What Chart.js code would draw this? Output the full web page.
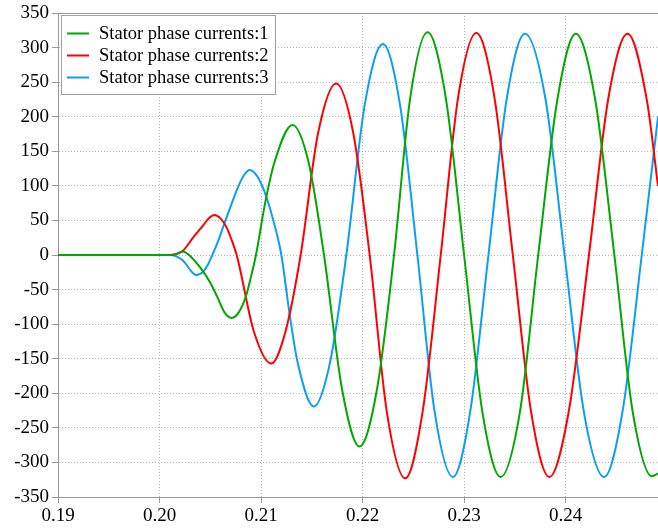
<!DOCTYPE html>
<html>
<head>
<meta charset="utf-8">
<script src="https://cdn.jsdelivr.net/npm/chart.js@4.4.1/dist/chart.umd.min.js"></script>
<style>
  html, body { margin: 0; padding: 0; background: #fff; }
  #wrap { width: 658px; height: 529px; }
</style>
</head>
<body>
<div id="wrap"><canvas id="chart" width="658" height="529"></canvas></div>
<script>
const seriesNames = ['Stator phase currents:1', 'Stator phase currents:2', 'Stator phase currents:3'];

// phase 1 (green): time [s], current
const t1 = [0.19, 0.2010, 0.2017, 0.2023, 0.2029, 0.2040, 0.2050, 0.2057, 0.2064, 0.2071, 0.2078, 0.2085, 0.2090, 0.2095, 0.2104, 0.2113, 0.2131, 0.2147, 0.2162, 0.2180, 0.2197, 0.2214, 0.2231, 0.2247, 0.2264, 0.2282, 0.2300, 0.2318, 0.2336, 0.2355, 0.2373, 0.2392, 0.2410, 0.2429, 0.2448, 0.2466, 0.2485, 0.2491];
const i1 = [0, 0, 2, 5, 0, -18, -40, -61, -83, -91, -83, -60, -32, 0, 75, 133, 188, 133, 0, -196, -277, -196, 0, 228, 322, 227, 0, -227, -321, -227, 0, 226, 320, 226, 0, -226, -320, -316];

// phase 2 (red)
const t2 = [0.19, 0.2012, 0.2018, 0.2023, 0.2033, 0.2043, 0.2049, 0.2054, 0.2060, 0.2066, 0.2071, 0.2076, 0.2093, 0.2110, 0.2124, 0.2139, 0.2156, 0.2174, 0.2191, 0.2207, 0.2224, 0.2242, 0.2259, 0.2277, 0.2294, 0.2312, 0.2330, 0.2348, 0.2366, 0.2384, 0.2403, 0.2423, 0.2442, 0.2461, 0.2480, 0.2491];
const i2 = [0, 0, 2, 6, 25, 43, 54, 58, 53, 40, 22, 0, -111, -157, -111, 0, 175, 248, 175, 0, -228, -323, -228, 0, 227, 321, 227, 0, -227, -321, -227, 0, 226, 320, 224, 100];

// phase 3 (blue)
const t3 = [0.19, 0.2011, 0.2018, 0.2023, 0.2027, 0.2031, 0.2036, 0.2043, 0.2048, 0.2052, 0.2058, 0.2063, 0.2070, 0.2077, 0.2083, 0.2089, 0.2097, 0.2105, 0.2113, 0.2120, 0.2128, 0.2136, 0.2152, 0.2168, 0.2184, 0.2202, 0.2220, 0.2237, 0.2254, 0.2271, 0.2289, 0.2306, 0.2324, 0.2342, 0.2360, 0.2380, 0.2399, 0.2418, 0.2438, 0.2456, 0.2475, 0.2491];
const i3 = [0, 0, -3, -8, -15, -23, -29, -24, -13, 0, 21, 42, 70, 97, 115, 123, 112, 85, 45, 0, -84, -155, -219, -155, 0, 216, 305, 216, 0, -227, -321, -227, 0, 226, 320, 227, 0, -227, -321, -227, 0, 200];

const xTicks = [0.19, 0.20, 0.21, 0.22, 0.23, 0.24];
const yTicks = [-350, -300, -250, -200, -150, -100, -50, 0, 50, 100, 150, 200, 250, 300, 350];

const colors = ['#00a800', '#ff0000', '#0a9ff5'];
const axisGray = '#999999';
const serif = "'Liberation Serif', 'Times New Roman', serif";
Chart.defaults.font.family = serif;
const tickFont = { family: serif, size: 19 };

const toPoints = (ts, vs) => ts.map((t, k) => ({ x: t, y: vs[k] }));

// top frame line + legend box in the upper left corner
const frame = {
  id: 'frame',
  beforeDatasetsDraw(chart) {
    const { ctx, chartArea } = chart;
    ctx.save();
    ctx.strokeStyle = axisGray;
    ctx.lineWidth = 1;
    ctx.beginPath();
    ctx.moveTo(chartArea.left, chartArea.top + 0.5);
    ctx.lineTo(chartArea.right, chartArea.top + 0.5);
    ctx.stroke();
    ctx.restore();
  },
  afterDatasetsDraw(chart) {
    const ctx = chart.ctx;
    ctx.save();
    ctx.fillStyle = '#fff';
    ctx.strokeStyle = '#a0a0a0';
    ctx.lineWidth = 1;
    ctx.fillRect(61.5, 15.5, 214, 79);
    ctx.strokeRect(61.5, 15.5, 214, 79);
    ctx.font = '18.5px ' + serif;
    ctx.textBaseline = 'middle';
    chart.data.datasets.forEach((ds, k) => {
      const y = 33.5 + k * 22;
      ctx.strokeStyle = ds.borderColor;
      ctx.lineWidth = 2;
      ctx.beginPath();
      ctx.moveTo(67, y);
      ctx.lineTo(89, y);
      ctx.stroke();
      ctx.fillStyle = '#000';
      ctx.fillText(ds.label, 99, y + 1);
    });
    ctx.restore();
  }
};

const mkSet = (k, ts, vs) => ({
  label: seriesNames[k],
  data: toPoints(ts, vs),
  borderColor: colors[k],
  borderWidth: 2,
  pointRadius: 0,
  fill: false,
  cubicInterpolationMode: 'monotone'
});

new Chart(document.getElementById('chart'), {
  type: 'line',
  data: {
    datasets: [mkSet(0, t1, i1), mkSet(1, t2, i2), mkSet(2, t3, i3)]
  },
  options: {
    responsive: false,
    animation: false,
    devicePixelRatio: 1,
    layout: { padding: { top: 13, right: 0, bottom: 0, left: 0 } },
    plugins: { legend: { display: false }, tooltip: { enabled: false } },
    scales: {
      x: {
        type: 'linear',
        min: 0.19,
        max: 0.2491,
        afterBuildTicks: (scale) => { scale.ticks = xTicks.map(v => ({ value: v })); },
        afterFit: (scale) => { scale.height = 32; scale.paddingLeft = 0; scale.paddingRight = 0; },
        ticks: {
          font: tickFont,
          color: '#000',
          padding: 2,
          maxRotation: 0,
          callback: (v) => Number(v).toFixed(2)
        },
        grid: { color: '#b4b4b4', lineWidth: 1, tickColor: axisGray, tickLength: 6, tickWidth: 1 },
        border: { display: true, color: axisGray, width: 1, dash: [1, 2] }
      },
      y: {
        min: -350,
        max: 350,
        afterBuildTicks: (scale) => { scale.ticks = yTicks.map(v => ({ value: v })); },
        afterFit: (scale) => { scale.width = 58; scale.paddingTop = 0; scale.paddingBottom = 0; },
        ticks: {
          font: tickFont,
          color: '#000',
          padding: 3,
          callback: (v) => String(v)
        },
        grid: { color: '#b4b4b4', lineWidth: 1, tickColor: axisGray, tickLength: 6, tickWidth: 1 },
        border: { display: true, color: axisGray, width: 1, dash: [1, 2] }
      }
    }
  },
  plugins: [frame]
});
</script>
</body>
</html>
